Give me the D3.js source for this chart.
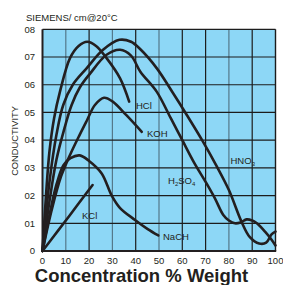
<!DOCTYPE html>
<meta charset="utf-8">
<head>
  <style>
    body { margin: 0; background: #fff; }
    text { font-family: "Liberation Sans", Arial, sans-serif; fill: #231f20; }
  </style>
</head>
<body>
<div id="my_dataviz"></div>
<script src="https://d3js.org/d3.v7.min.js"></script>
<script>

// tick labels
var xTicks = [0, 10, 20, 30, 40, 50, 60, 70, 80, 90, 100];
var yTicks = [0, 0.1, 0.2, 0.3, 0.4, 0.5, 0.6, 0.7, 0.8];
var yTickLabels = ["0", "01", "02", "03", "04", "05", "06", "07", "08"];
var lightGrid = [10, 30, 50, 80];

// series: [concentration %, conductivity]
var names = ["HCl", "HNO3", "H2SO4", "KOH", "NaOH", "KCl"];
var hcl = [[0,0],[1.5,0.2],[3,0.36],[5,0.48],[7.5,0.575],[11.8,0.696],[15.5,0.74],[19.2,0.755],[23,0.74],[27.5,0.696],[33.3,0.623],[37.2,0.539]];
var hno3 = [[0,0],[3,0.25],[6,0.42],[8.9,0.527],[13,0.6],[19,0.66],[26,0.726],[33,0.762],[38,0.755],[42,0.728],[49,0.66],[56,0.57],[62,0.49],[68.5,0.4],[74.5,0.31],[80,0.22],[85.4,0.106],[89,0.05],[93,0.027],[96,0.03],[98.3,0.06],[100,0.07]];
var h2so4 = [[0,0],[3,0.18],[6,0.33],[9,0.43],[12.5,0.527],[16,0.59],[20.4,0.64],[27.5,0.708],[33.3,0.726],[38,0.705],[42,0.647],[49,0.575],[55,0.48],[60,0.4],[65,0.32],[70.4,0.244],[74,0.19],[77.6,0.13],[80,0.11],[82.6,0.1],[85,0.103],[87.6,0.114],[90,0.11],[92,0.1],[95.5,0.07],[98.4,0.04],[100,0.02]];
var koh = [[0,0],[4,0.15],[8,0.27],[12,0.35],[16,0.42],[19,0.47],[22.5,0.527],[26.4,0.553],[30,0.54],[36,0.49],[42.6,0.43]];
var naoh = [[0,0],[3,0.13],[6,0.24],[9,0.31],[12,0.335],[16,0.345],[20,0.325],[25.4,0.28],[29.7,0.2],[33.3,0.155],[39.7,0.112],[45,0.08],[49.7,0.056]];
var kcl = [[0,0],[5,0.055],[10,0.11],[15,0.166],[21.5,0.238]];

var margin = {top: 29, right: 7, bottom: 34, left: 42},
    width = 283 - margin.left - margin.right,
    height = 285 - margin.top - margin.bottom;

var svg = d3.select("#my_dataviz")
  .append("svg")
    .attr("width", 283)
    .attr("height", 285);

var g = svg.append("g")
    .attr("transform", "translate(" + margin.left + "," + margin.top + ")");

var x = d3.scaleLinear().domain([0, 100]).range([0.5, 233.5]);
var y = d3.scaleLinear().domain([0, 0.8]).range([222, 0.3]);

// background
g.append("rect")
  .attr("x", x(0)).attr("y", y(0.8))
  .attr("width", x(100) - x(0)).attr("height", y(0) - y(0.8))
  .attr("fill", "#8dd7f6");

// grid
g.selectAll(".vgrid")
  .data(xTicks.slice(1, -1))
  .enter().append("line")
    .attr("x1", function(d) { return x(d); })
    .attr("x2", function(d) { return x(d); })
    .attr("y1", y(0)).attr("y2", y(0.8))
    .attr("stroke", function(d) { return lightGrid.indexOf(d) >= 0 ? "#54798b" : "#1c1c1c"; })
    .attr("stroke-width", 1.2);

g.selectAll(".hgrid")
  .data(yTicks.slice(1))
  .enter().append("line")
    .attr("x1", x(0)).attr("x2", x(100))
    .attr("y1", function(d) { return y(d); })
    .attr("y2", function(d) { return y(d); })
    .attr("stroke", "#1c1c1c")
    .attr("stroke-width", 1.2);

// right border
g.append("line")
  .attr("x1", x(100)).attr("x2", x(100))
  .attr("y1", y(0)).attr("y2", y(0.8))
  .attr("stroke", "#1c1c1c").attr("stroke-width", 1.4);

// curves
var line = d3.line()
  .x(function(d) { return x(d[0]); })
  .y(function(d) { return y(d[1]); })
  .curve(d3.curveCatmullRom.alpha(0.5));

[hcl, hno3, h2so4, koh, naoh, kcl].forEach(function(s) {
  g.append("path")
    .datum(s)
    .attr("d", line)
    .attr("fill", "none")
    .attr("stroke", "#231f20")
    .attr("stroke-width", 2.6)
    .attr("stroke-linecap", "round")
    .attr("stroke-linejoin", "round");
});

// axes (lines only, labels drawn as text below)
g.append("line")
  .attr("x1", x(0)).attr("x2", x(0))
  .attr("y1", y(0) + 1).attr("y2", y(0.8))
  .attr("stroke", "#231f20").attr("stroke-width", 2);
g.append("line")
  .attr("x1", x(0) - 1).attr("x2", x(100) + 0.7)
  .attr("y1", y(0)).attr("y2", y(0))
  .attr("stroke", "#231f20").attr("stroke-width", 2);

// tick labels
g.selectAll(".ylab")
  .data(yTicks)
  .enter().append("text")
    .attr("x", -7)
    .attr("y", function(d) { return y(d) + 3.3; })
    .attr("text-anchor", "end")
    .style("font-size", "9.5px")
    .text(function(d, i) { return yTickLabels[i]; });

g.selectAll(".xlab")
  .data(xTicks)
  .enter().append("text")
    .attr("x", function(d) { return x(d); })
    .attr("y", y(0) + 13)
    .attr("text-anchor", "middle")
    .style("font-size", "9.5px")
    .text(function(d) { return d; });

// titles
svg.append("text").attr("x", 26).attr("y", 20.5).text("SIEMENS/ cm@20\u00b0C").style("font-size", "9.5px");
svg.append("text")
  .attr("transform", "translate(18,141)rotate(-90)")
  .attr("text-anchor", "middle")
  .style("font-size", "9.3px")
  .text("CONDUCTIVITY");
svg.append("text").attr("x", 141.5).attr("y", 281.5).attr("text-anchor", "middle")
  .style("font-size", "18.5px").style("font-weight", "bold")
  .text("Concentration % Weight");

// curve labels
svg.append("text").attr("x", 136).attr("y", 108.5).text("HCl").style("font-size", "9.5px");
svg.append("text").attr("x", 147).attr("y", 137).text("KOH").style("font-size", "9.5px");
svg.append("text").attr("x", 82).attr("y", 218.5).text("KCl").style("font-size", "9.5px");
svg.append("text").attr("x", 163).attr("y", 240).text("NaCH").style("font-size", "9.5px");

var hno3Label = svg.append("text").attr("x", 230.5).attr("y", 163.5).style("font-size", "9.5px");
hno3Label.append("tspan").text("HNO");
hno3Label.append("tspan").attr("dy", 2).style("font-size", "6px").text("3");

var h2so4Label = svg.append("text").attr("x", 168).attr("y", 183.5).style("font-size", "9.5px");
h2so4Label.append("tspan").text("H");
h2so4Label.append("tspan").attr("dy", 2).style("font-size", "6px").text("2");
h2so4Label.append("tspan").attr("dy", -2).text("SO");
h2so4Label.append("tspan").attr("dy", 2).style("font-size", "6px").text("4");

</script>
</body>
